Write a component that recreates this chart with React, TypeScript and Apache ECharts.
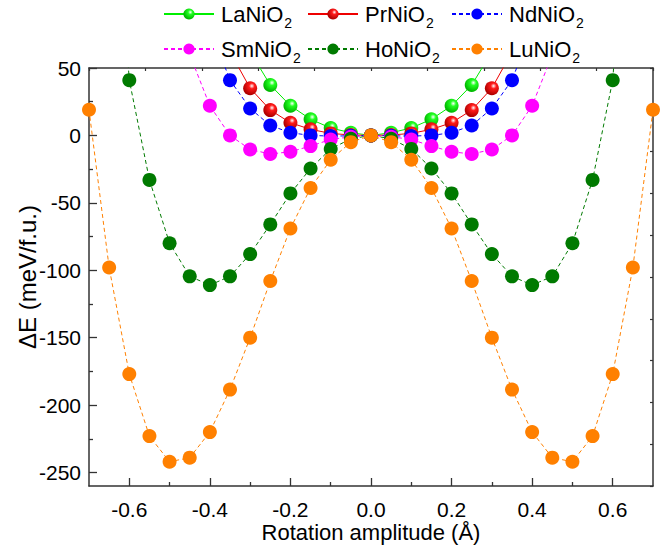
import React, { useEffect, useRef } from "react";
import * as echarts from "echarts";

// Rotation amplitude (Å)
const amplitude = [
  -0.7, -0.65, -0.6, -0.55, -0.5, -0.45, -0.4, -0.35, -0.3, -0.25, -0.2, -0.15, -0.1, -0.05, 0,
  0.05, 0.1, 0.15, 0.2, 0.25, 0.3, 0.35, 0.4, 0.45, 0.5, 0.55, 0.6, 0.65, 0.7,
];

// ΔE (meV/f.u.)
const laNiO2 = [
  null, null, null, null, null, null, null, null, 62, 37.4, 22, 12, 5.5, 2, 0,
  2, 5.5, 12, 22, 37.4, 62, null, null, null, null, null, null, null, null,
];
const prNiO2 = [
  null, null, null, null, null, null, null, 62, 35, 18.8, 9.4, 4.5, 1.5, 0.3, 0,
  0.3, 1.5, 4.5, 9.4, 18.8, 35, 62, null, null, null, null, null, null, null,
];
const ndNiO2 = [
  null, null, null, null, null, null, 80, 41, 20, 7.4, 2, 0, -0.5, -0.3, 0,
  -0.3, -0.5, 0, 2, 7.4, 20, 41, 80, null, null, null, null, null, null,
];
const smNiO2 = [
  null, null, null, null, null, 60, 22, 0, -10.4, -13.8, -12.1, -7.9, -3, -1, 0,
  -1, -3, -7.9, -12.1, -13.8, -10.4, 0, 22, 60, null, null, null, null, null,
];
const hoNiO2 = [
  null, 250, 41, -33, -80, -104.5, -111, -104.5, -88, -66, -43, -24.5, -10, -2.5, 0,
  -2.5, -10, -24.5, -43, -66, -88, -104.5, -111, -104.5, -80, -33, 41, 250, null,
];
const luNiO2 = [
  19, -98, -177, -223, -242, -239, -220, -188.5, -150, -108, -69, -39, -18, -5, 0,
  -5, -18, -39, -69, -108, -150, -188.5, -220, -239, -242, -223, -177, -98, 19,
];

const seriesNames = ["LaNiO2", "PrNiO2", "NdNiO2", "SmNiO2", "HoNiO2", "LuNiO2"];
const seriesValues = [laNiO2, prNiO2, ndNiO2, smNiO2, hoNiO2, luNiO2];

const xMajorTicks = [-0.6, -0.4, -0.2, 0, 0.2, 0.4, 0.6];
const xMinorTicks = [-0.5, -0.3, -0.1, 0.1, 0.3, 0.5];
const yMajorTicks = [-250, -200, -150, -100, -50, 0, 50];
const yMinorTicks = [-225, -175, -125, -75, -25, 25];

const FONT = "'Liberation Sans', Arial, Helvetica, sans-serif";
const AXIS_COLOR = "#333333";

const ball = (base: string, dark: string) => ({
  type: "radial",
  x: 0.62,
  y: 0.34,
  r: 0.62,
  colorStops: [
    { offset: 0, color: "#ffffff" },
    { offset: 0.32, color: base },
    { offset: 1, color: dark },
  ],
});

const styles = [
  { color: "#00ee00", fill: ball("#22ff22", "#00b800"), dashed: false },
  { color: "#ee0000", fill: ball("#ff1a1a", "#b00000"), dashed: false },
  { color: "#0000ff", fill: "#0000ff", dashed: true },
  { color: "#ff00ff", fill: "#ff00ff", dashed: true },
  { color: "#007a00", fill: "#007a00", dashed: true },
  { color: "#ff8000", fill: "#ff8000", dashed: true },
];

const legendPos = [
  { left: 163, top: -2 },
  { left: 307, top: -2 },
  { left: 451, top: -2 },
  { left: 163, top: 33 },
  { left: 307, top: 33 },
  { left: 451, top: 33 },
];

export default function App() {
  const ref = useRef<HTMLDivElement>(null);

  useEffect(() => {
    document.body.style.margin = "0";
    if (!ref.current) return;
    const chart = echarts.init(ref.current, null, { renderer: "svg" });

    const series = seriesNames.map((name, i) => {
      const st = styles[i];
      const data: number[][] = [];
      amplitude.forEach((x, k) => {
        const v = seriesValues[i][k];
        if (v !== null && v !== undefined) data.push([x, v as number]);
      });
      return {
        name,
        type: "line",
        xAxisIndex: 0,
        yAxisIndex: 0,
        data,
        symbol: "circle",
        symbolSize: 14,
        showAllSymbol: true,
        clip: true,
        z: 2 + i,
        lineStyle: {
          color: st.color,
          width: 1,
          type: st.dashed ? [4, 3] : "solid",
        },
        itemStyle: { color: st.fill, borderWidth: 0 },
        emphasis: { disabled: true },
      };
    });

    const legends = seriesNames.map((name, i) => ({
      data: [name],
      left: legendPos[i].left,
      top: legendPos[i].top,
      padding: 0,
      itemWidth: 50,
      itemHeight: 14,
      selectedMode: false,
      formatter: (n: string) => `{n|${n.slice(0, -1)}}{s|${n.slice(-1)}}`,
      textStyle: {
        fontFamily: FONT,
        color: "#000",
        rich: {
          n: { fontSize: 22, fontFamily: FONT, color: "#000", lineHeight: 24, padding: [0, 0, 0, 2] },
          s: { fontSize: 14, fontFamily: FONT, color: "#000", lineHeight: 14, padding: [18, 0, 0, 1] },
        },
      },
    }));

    const axisLine = { show: true, onZero: false, lineStyle: { color: AXIS_COLOR, width: 1.5 } };
    const hiddenLine = { show: false, onZero: false };

    chart.setOption({
      animation: false,
      backgroundColor: "#ffffff",
      legend: legends,
      grid: {
        left: 89,
        right: 19,
        top: 68,
        bottom: 59,
        containLabel: false,
        outerBoundsMode: "none",
      },
      xAxis: [
        {
          type: "value",
          position: "bottom",
          min: -0.7,
          max: 0.7,
          axisLine,
          axisTick: { inside: true, length: 8, customValues: xMajorTicks, lineStyle: { color: AXIS_COLOR, width: 1.3 } },
          axisLabel: {
            customValues: xMajorTicks,
            formatter: (v: number) => v.toFixed(1),
            fontFamily: FONT,
            fontSize: 21,
            lineHeight: 20,
            color: "#000",
            margin: 13,
          },
          splitLine: { show: false },
          name: "Rotation amplitude (Å)",
          nameLocation: "middle",
          nameGap: 34,
          nameMoveOverlap: false,
          nameTextStyle: { fontFamily: FONT, fontSize: 22, lineHeight: 24, color: "#000" },
        },
        {
          type: "value",
          position: "bottom",
          min: -0.7,
          max: 0.7,
          axisLine: hiddenLine,
          axisTick: { inside: true, length: 4, customValues: xMinorTicks, lineStyle: { color: AXIS_COLOR, width: 1.3 } },
          axisLabel: { show: false },
          splitLine: { show: false },
        },
        {
          type: "value",
          position: "top",
          min: 0,
          max: 10,
          interval: 1,
          axisLine,
          axisTick: { inside: true, length: 3, lineStyle: { color: AXIS_COLOR, width: 1.2 } },
          axisLabel: { show: false },
          splitLine: { show: false },
        },
      ],
      yAxis: [
        {
          type: "value",
          position: "left",
          min: -260,
          max: 50,
          axisLine,
          axisTick: { inside: true, length: 8, customValues: yMajorTicks, lineStyle: { color: AXIS_COLOR, width: 1.3 } },
          axisLabel: {
            customValues: yMajorTicks,
            fontFamily: FONT,
            fontSize: 21,
            color: "#000",
            margin: 8,
          },
          splitLine: { show: false },
          name: "ΔE (meV/f.u.)",
          nameLocation: "middle",
          nameRotate: 90,
          nameGap: 50,
          nameMoveOverlap: false,
          nameTextStyle: { fontFamily: FONT, fontSize: 24, color: "#000" },
        },
        {
          type: "value",
          position: "left",
          min: -260,
          max: 50,
          axisLine: hiddenLine,
          axisTick: { inside: true, length: 4, customValues: yMinorTicks, lineStyle: { color: AXIS_COLOR, width: 1.3 } },
          axisLabel: { show: false },
          splitLine: { show: false },
        },
        {
          type: "value",
          position: "right",
          min: 0,
          max: 10,
          interval: 1,
          axisLine,
          axisTick: { inside: true, length: 3, lineStyle: { color: AXIS_COLOR, width: 1.2 } },
          axisLabel: { show: false },
          splitLine: { show: false },
        },
      ],
      series,
    });

    return () => chart.dispose();
  }, []);

  return <div ref={ref} style={{ width: 672, height: 545 }} />;
}
